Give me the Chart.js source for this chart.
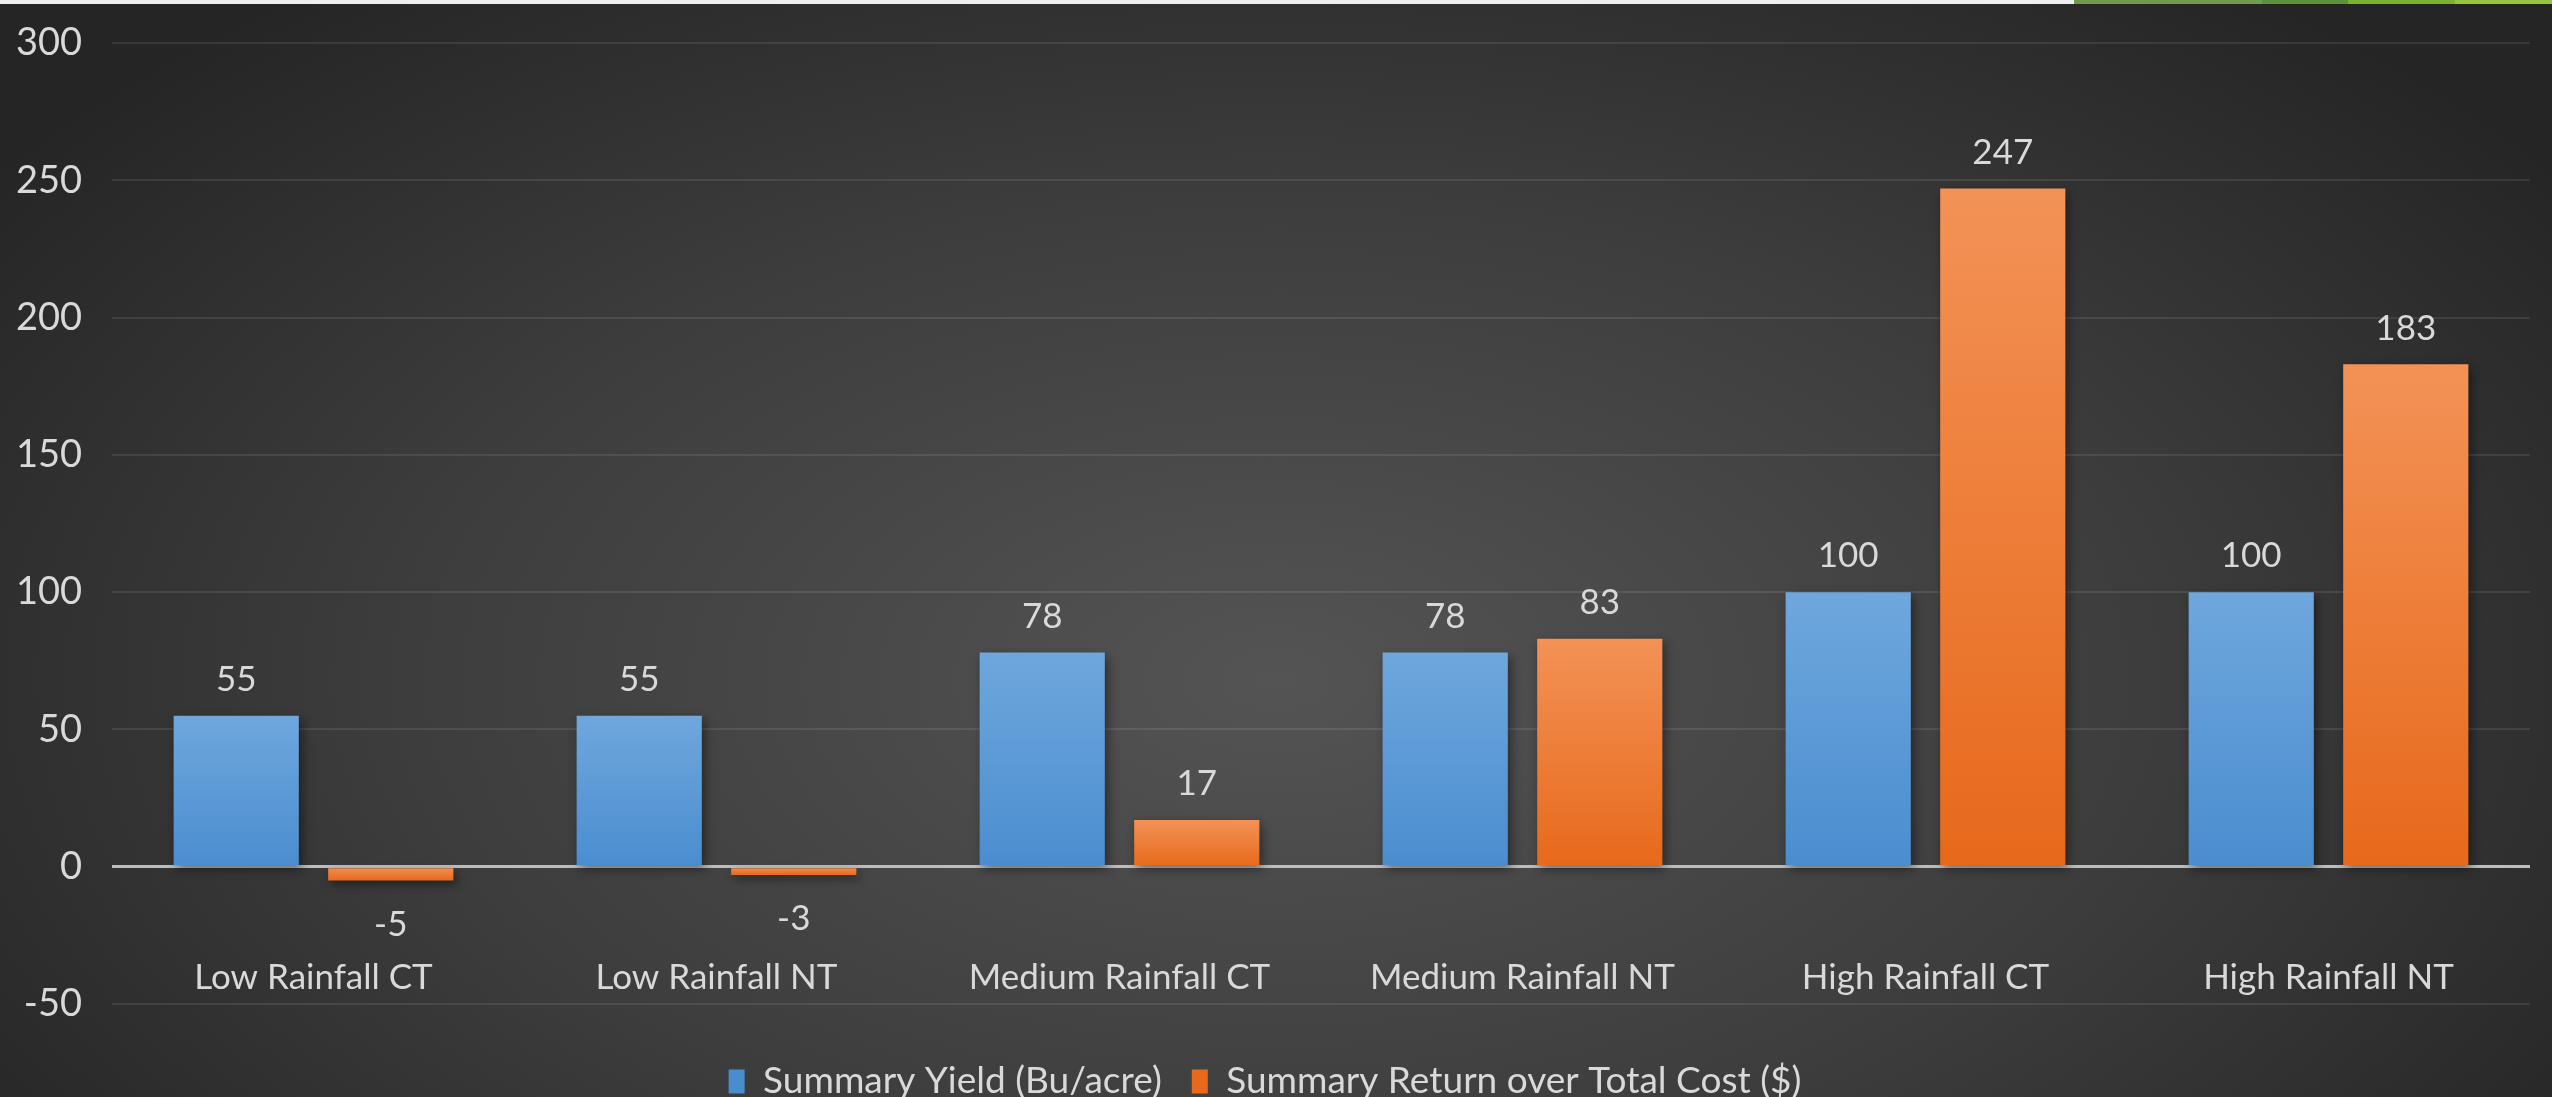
<!DOCTYPE html>
<html>
<head>
<meta charset="utf-8">
<script src="https://cdn.jsdelivr.net/npm/chart.js@4.4.1/dist/chart.umd.min.js"></script>
<style>
  html, body { margin: 0; padding: 0; }
  body {
    width: 2552px; height: 1097px; overflow: hidden; position: relative;
    background: radial-gradient(ellipse 62% 80% at 50% 62%, #545454 0%, #3d3d3d 55%, #252525 100%);
  }
  #wrap { position: absolute; left: 0; top: 0; width: 2552px; height: 1097px; }
  .strip { position: absolute; top: 0; height: 4px; }
</style>
</head>
<body>
<div class="strip" style="left:0;width:2074px;background:#efefef"></div>
<div class="strip" style="left:2074px;width:188px;background:#719b4c"></div>
<div class="strip" style="left:2262px;width:86px;background:#5f8f3a"></div>
<div class="strip" style="left:2348px;width:107px;background:#7cb12f"></div>
<div class="strip" style="left:2455px;width:97px;background:#97c63c"></div>
<div id="wrap"><canvas id="chart"></canvas></div>
<script>
const categories = ['Low Rainfall CT', 'Low Rainfall NT', 'Medium Rainfall CT', 'Medium Rainfall NT', 'High Rainfall CT', 'High Rainfall NT'];
const yieldVals = [55, 55, 78, 78, 100, 100];
const returnVals = [-5, -3, 17, 83, 247, 183];
const seriesNames = ['Summary Yield (Bu/acre)', 'Summary Return over Total Cost ($)'];
const yMin = -50, yMax = 300, yStep = 50;

const FONT = 'Lato, "Open Sans", sans-serif';
const TEXT = '#d9d9d9';

// per-bar vertical gradient, light at top, darker at bottom
function barFill(top, bottom) {
    return (c) => {
        const chart = c.chart;
        const y = chart.scales.y;
        if (!y || c.raw === undefined) return bottom;
        const p1 = y.getPixelForValue(Math.max(c.raw, 0));
        const p2 = y.getPixelForValue(Math.min(c.raw, 0));
        if (!isFinite(p1) || !isFinite(p2) || p1 === p2) return bottom;
        const g = chart.ctx.createLinearGradient(0, p1, 0, p2);
        g.addColorStop(0, top);
        g.addColorStop(1, bottom);
        return g;
    };
}

const shadowPlugin = {
    id: 'barShadow',
    beforeDatasetsDraw(chart) {
        const ctx = chart.ctx;
        ctx.save();
        ctx.shadowColor = 'rgba(0,0,0,0.45)';
        ctx.shadowBlur = 10;
        ctx.shadowOffsetX = 3;
        ctx.shadowOffsetY = 4;
    },
    afterDatasetsDraw(chart) {
        chart.ctx.restore();
    }
};

const valueLabels = {
    id: 'valueLabels',
    afterDatasetsDraw(chart) {
        const ctx = chart.ctx;
        ctx.save();
        ctx.font = '35px ' + FONT;
        ctx.fillStyle = TEXT;
        ctx.textAlign = 'center';
        ctx.textBaseline = 'middle';
        chart.data.datasets.forEach((ds, i) => {
            chart.getDatasetMeta(i).data.forEach((bar, j) => {
                const v = ds.data[j];
                const y = v >= 0 ? bar.y - 36 : bar.y + 44;
                ctx.fillText(String(v), bar.x, y);
            });
        });
        ctx.restore();
    }
};

new Chart(document.getElementById('chart'), {
    type: 'bar',
    data: {
        labels: categories,
        datasets: [
            { label: seriesNames[0], data: yieldVals, backgroundColor: barFill('#6fa7dd', '#4a8dcf') },
            { label: seriesNames[1], data: returnVals, backgroundColor: barFill('#f39256', '#e7691b') }
        ]
    },
    options: {
        responsive: true,
        maintainAspectRatio: false,
        animation: false,
        devicePixelRatio: 1,
        categoryPercentage: 0.767,
        barPercentage: 0.81,
        layout: { padding: { left: 0, right: 22, top: 0, bottom: -13 } },
        scales: {
            x: {
                grid: { display: false, drawTicks: false },
                border: { display: false },
                ticks: { color: TEXT, font: { family: FONT, size: 35 }, mirror: true, padding: 5, maxRotation: 0, autoSkip: false },
                afterFit: (s) => { s.height = 29; }
            },
            y: {
                min: yMin, max: yMax,
                ticks: { stepSize: yStep, color: TEXT, font: { family: FONT, size: 38 }, padding: 30 },
                border: { display: false },
                grid: {
                    drawTicks: false,
                    color: (c) => c.tick && c.tick.value === 0 ? '#bdbdbd' : 'rgba(255,255,255,0.09)',
                    lineWidth: (c) => c.tick && c.tick.value === 0 ? 3 : 2
                },
                afterFit: (s) => { s.width = 112; s.paddingTop = 43; s.paddingBottom = 0; }
            }
        },
        plugins: {
            legend: {
                position: 'bottom',
                labels: { color: TEXT, font: { family: FONT, size: 37 }, boxWidth: 16, boxHeight: 24, padding: 30 }
            },
            tooltip: { enabled: false }
        }
    },
    plugins: [shadowPlugin, valueLabels]
});
</script>
</body>
</html>
